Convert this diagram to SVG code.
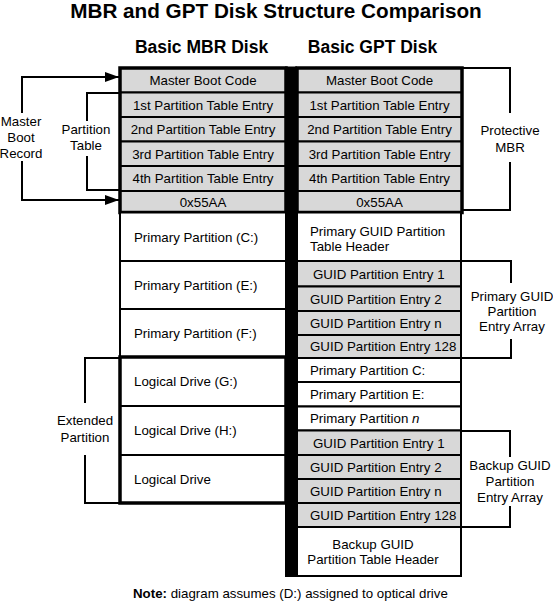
<svg xmlns="http://www.w3.org/2000/svg" width="553" height="606" viewBox="0 0 553 606">
<style>
text{font-family:"Liberation Sans",Arial,sans-serif;fill:#000}
.t{font-size:13.3px}
.c{text-anchor:middle}
.title{font-size:20.7px;font-weight:bold;text-anchor:middle}
.sub{font-size:17.5px;font-weight:bold;text-anchor:middle}
.g{fill:#d8d8d8;stroke:#000;stroke-width:2}
.w{fill:#fff;stroke:#000;stroke-width:2}
.thick{fill:none;stroke:#000;stroke-width:3.5}
.br{fill:none;stroke:#000;stroke-width:2}
</style>
<defs>
<marker id="ah" markerWidth="14" markerHeight="10" refX="14" refY="5" orient="auto" markerUnits="userSpaceOnUse">
<path d="M0,0 L14,5 L0,10 Z" fill="#000"/>
</marker>
</defs>
<rect width="553" height="606" fill="#fff"/>
<text class="title" x="276" y="18">MBR and GPT Disk Structure Comparison</text>
<text class="sub" x="201.5" y="53">Basic MBR Disk</text>
<text class="sub" x="372.5" y="53">Basic GPT Disk</text>

<g id="mbr-disk">
<g id="mbr-mbc"><rect class="g" x="120" y="68" width="166" height="24.5"/><text class="t c" x="203" y="85">Master Boot Code</text></g>
<g id="mbr-pte1"><rect class="g" x="120" y="92.5" width="166" height="24.5"/><text class="t c" x="203" y="109.5">1st Partition Table Entry</text></g>
<g id="mbr-pte2"><rect class="g" x="120" y="117" width="166" height="24.5"/><text class="t c" x="203" y="134">2nd Partition Table Entry</text></g>
<g id="mbr-pte3"><rect class="g" x="120" y="141.5" width="166" height="24.5"/><text class="t c" x="203" y="158.5">3rd Partition Table Entry</text></g>
<g id="mbr-pte4"><rect class="g" x="120" y="166" width="166" height="25"/><text class="t c" x="203" y="183">4th Partition Table Entry</text></g>
<g id="mbr-sig"><rect class="g" x="120" y="191" width="166" height="21.5"/><text class="t c" x="203" y="206.5">0x55AA</text></g>
<rect class="thick" x="120" y="68" width="166" height="144.5"/>
<g id="mbr-c"><rect class="w" x="120" y="212.5" width="166" height="48.5"/><text class="t" x="134" y="241.5">Primary Partition (C:)</text></g>
<g id="mbr-e"><rect class="w" x="120" y="261" width="166" height="48"/><text class="t" x="134" y="289.5">Primary Partition (E:)</text></g>
<g id="mbr-f"><rect class="w" x="120" y="309" width="166" height="48"/><text class="t" x="134" y="337.5">Primary Partition (F:)</text></g>
<g id="mbr-g"><rect class="w" x="120" y="357" width="166" height="49"/><text class="t" x="134" y="386">Logical Drive (G:)</text></g>
<g id="mbr-h"><rect class="w" x="120" y="406" width="166" height="49"/><text class="t" x="134" y="435">Logical Drive (H:)</text></g>
<g id="mbr-l"><rect class="w" x="120" y="455" width="166" height="48"/><text class="t" x="134" y="483.5">Logical Drive</text></g>
<rect class="thick" x="120" y="357" width="166" height="146"/>
</g>

<rect id="divider" x="285" y="66.5" width="12" height="510.5" fill="#000"/>

<g id="gpt-disk">
<g id="gpt-mbc"><rect class="g" x="297" y="68" width="165" height="24.5"/><text class="t c" x="379.5" y="85">Master Boot Code</text></g>
<g id="gpt-pte1"><rect class="g" x="297" y="92.5" width="165" height="24.5"/><text class="t c" x="379.5" y="109.5">1st Partition Table Entry</text></g>
<g id="gpt-pte2"><rect class="g" x="297" y="117" width="165" height="24.5"/><text class="t c" x="379.5" y="134">2nd Partition Table Entry</text></g>
<g id="gpt-pte3"><rect class="g" x="297" y="141.5" width="165" height="24.5"/><text class="t c" x="379.5" y="158.5">3rd Partition Table Entry</text></g>
<g id="gpt-pte4"><rect class="g" x="297" y="166" width="165" height="25"/><text class="t c" x="379.5" y="183">4th Partition Table Entry</text></g>
<g id="gpt-sig"><rect class="g" x="297" y="191" width="165" height="21.5"/><text class="t c" x="379.5" y="206.5">0x55AA</text></g>
<rect class="thick" x="297" y="68" width="165" height="144.5"/>
<g id="gpt-hdr"><rect class="w" x="297" y="212.5" width="164" height="48.5"/><text class="t" x="310" y="236">Primary GUID Partition</text><text class="t" x="310" y="251">Table Header</text></g>
<g id="gpt-e1"><rect class="g" x="297" y="261" width="164" height="25.5"/><text class="t" x="313" y="278.5">GUID Partition Entry 1</text></g>
<g id="gpt-e2"><rect class="g" x="297" y="286.5" width="164" height="24.5"/><text class="t" x="310" y="303.5">GUID Partition Entry 2</text></g>
<g id="gpt-en"><rect class="g" x="297" y="311" width="164" height="24"/><text class="t" x="310" y="327.5">GUID Partition Entry n</text></g>
<g id="gpt-e128"><rect class="g" x="297" y="335" width="164" height="23"/><text class="t" x="310" y="351">GUID Partition Entry 128</text></g>
<g id="gpt-pc"><rect class="w" x="297" y="358" width="164" height="24"/><text class="t" x="310" y="374.5">Primary Partition C:</text></g>
<g id="gpt-pe"><rect class="w" x="297" y="382" width="164" height="24.5"/><text class="t" x="310" y="398.5">Primary Partition E:</text></g>
<g id="gpt-pn"><rect class="w" x="297" y="406.5" width="164" height="24"/><text class="t" x="310" y="423">Primary Partition <tspan font-style="italic">n</tspan></text></g>
<g id="gpt-b1"><rect class="g" x="297" y="430.5" width="164" height="24.5"/><text class="t" x="313" y="447.5">GUID Partition Entry 1</text></g>
<g id="gpt-b2"><rect class="g" x="297" y="455" width="164" height="24"/><text class="t" x="310" y="471.5">GUID Partition Entry 2</text></g>
<g id="gpt-bn"><rect class="g" x="297" y="479" width="164" height="24"/><text class="t" x="310" y="495.5">GUID Partition Entry n</text></g>
<g id="gpt-b128"><rect class="g" x="297" y="503" width="164" height="24"/><text class="t" x="310" y="519.5">GUID Partition Entry 128</text></g>
<g id="gpt-bhdr"><rect class="w" x="297" y="527" width="164" height="49"/><text class="t c" x="373" y="549">Backup GUID</text><text class="t c" x="373" y="564">Partition Table Header</text></g>
</g>

<g id="connectors">
<polyline class="br" points="106,77 22,77 22,113"/>
<path d="M105,77 L119,77" class="br" marker-end="url(#ah)"/>
<polyline class="br" points="22,161 22,200 106,200"/>
<path d="M105,200 L119,200" class="br" marker-end="url(#ah)"/>
<polyline class="br" points="120,93 87,93 87,121"/>
<polyline class="br" points="87,156 87,190 120,190"/>
<polyline class="br" points="119,358 85,358 85,403"/>
<polyline class="br" points="85,455 85,503 119,503"/>
<polyline class="br" points="462,68 510,68 510,113"/>
<polyline class="br" points="510,162 510,210 462,210"/>
<polyline class="br" points="462,261 511,261 511,283"/>
<polyline class="br" points="511,339 511,358 462,358"/>
<polyline class="br" points="462,431 510,431 510,457"/>
<polyline class="br" points="510,506 510,527 462,527"/>
</g>

<g id="labels">
<text class="t c" x="21" y="126">Master</text>
<text class="t c" x="21" y="142">Boot</text>
<text class="t c" x="21" y="158">Record</text>
<text class="t c" x="86" y="134">Partition</text>
<text class="t c" x="86" y="150">Table</text>
<text class="t c" x="85" y="425">Extended</text>
<text class="t c" x="85" y="442">Partition</text>
<text class="t c" x="510" y="135">Protective</text>
<text class="t c" x="510" y="152">MBR</text>
<text class="t c" x="512" y="301">Primary GUID</text>
<text class="t c" x="512" y="316">Partition</text>
<text class="t c" x="512" y="331">Entry Array</text>
<text class="t c" x="510" y="470">Backup GUID</text>
<text class="t c" x="510" y="486">Partition</text>
<text class="t c" x="510" y="502">Entry Array</text>
</g>

<text class="t" x="133" y="598"><tspan font-weight="bold">Note:</tspan> diagram assumes (D:) assigned to optical drive</text>
</svg>
